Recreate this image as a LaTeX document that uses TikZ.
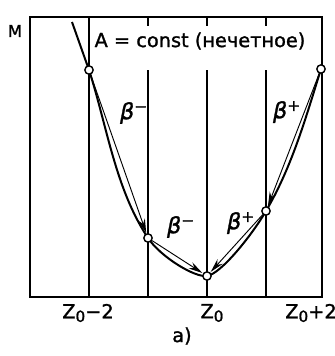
\documentclass[tikz,border=0pt]{standalone}
\usepackage{fontspec}
\setmainfont{DejaVu Sans}[FakeBold=1.3, ItalicFeatures={FakeBold=1.3}]
\usetikzlibrary{arrows.meta, positioning, backgrounds, calc}
\newcommand{\zn}{Z\raisebox{-3pt}{\fontsize{13}{14}\selectfont 0}}
\tikzset{
  frame/.style  = {line width=1.7pt},
  grid/.style   = {line width=1.1pt},
  curve/.style  = {line width=1.7pt},
  level/.style  = {circle, draw, line width=1.2pt, fill=white, minimum size=2.5mm, inner sep=0pt},
  decay/.style  = {line width=0.8pt, -{Stealth[length=12pt, width=6pt]}, shorten >=0.5pt},
  lbl/.style    = {font=\fontsize{16.5}{19}\selectfont, inner sep=0pt},
  blbl/.style   = {font=\fontsize{19}{21}\selectfont, inner sep=0pt},
}

\begin{document}
\begin{tikzpicture}[x=0.3mm, y=-0.3mm]
  \useasboundingbox (0,0) rectangle (335,356);
  % frame and isobar lines
  \draw[frame] (30,17) rectangle (322,297);
  \draw[grid] (89,17) -- (89,297);
  \foreach \x in {148, 207, 266} {
    \draw[grid] (\x,17) -- (\x,26);
    \draw[grid] (\x,70) -- (\x,297);
  }
  % nuclides on the mass parabola
  \coordinate (top) at (72,22);
  \node[level] (m2) at (89,70) {};
  \node[level] (m1) at (148,238) {};
  \node[level] (z0) at (207,276) {};
  \node[level] (p1) at (266,211) {};
  \node[level] (p2) at (321,69) {};
  \begin{scope}[on background layer]
    \draw[curve] (top) -- (m2.center)
      .. controls (107.1,126.2) and (115.3,188.9) .. (m1.center)
      .. controls (160.8,257.1) and (195.1,277.8) .. (z0.center)
      .. controls (220.8,273.9) and (251.3,236) .. (p1.center)
      .. controls (291.9,167) and (305.8,117.7) .. (p2.center);
  \end{scope}
  % decays
  \foreach \a/\b in {m2/m1, m1/z0, p2/p1, p1/z0} {
    \draw[decay] (\a) -- (\b);
  }
  \node[lbl, font=\fontsize{14}{16}\selectfont] (mlab) at (15,31) {M};
  \node[lbl] (title) at (200,41) {A = const (нечетное)};
  \node[blbl] (bm1) at (134,113) {\textit{β}\textsuperscript{−}};
  \node[blbl] (bp1) at (287,112) {\textit{β}\textsuperscript{+}};
  \node[blbl] (bm2) at (181,227) {\textit{β}\textsuperscript{−}};
  \node[blbl] (bp2) at (241,223) {\textit{β}\textsuperscript{+}};
  \node[lbl] (zm2) at (88,313) {\zn−2};
  \node[lbl] (zz0) at (212,313) {\zn};
  \node[lbl] (zp2) at (311,313) {\zn+2};
  \node[lbl] (cap) at (182,336) {а)};
\end{tikzpicture}
\end{document}
